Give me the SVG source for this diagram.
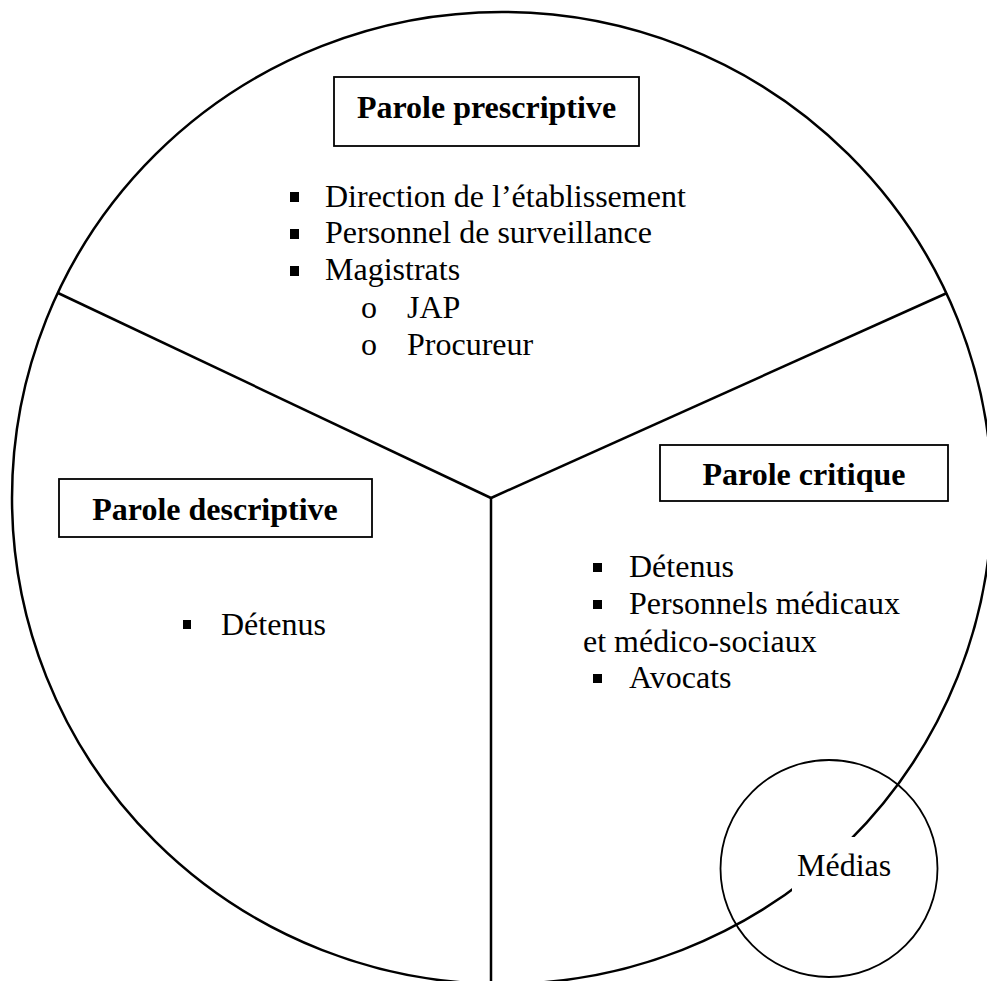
<svg xmlns="http://www.w3.org/2000/svg" width="987" height="981" viewBox="0 0 987 981">
  <style>
    .t { font-family: "Liberation Serif", "Times New Roman", serif; font-size: 32px; fill: #000; }
    .b { font-weight: bold; }
    .box { fill: #fff; stroke: #000; stroke-width: 1.8; }
    .ln { stroke: #000; stroke-width: 2.5; fill: none; }
    .sq { fill: #000; }
  </style>
  <rect x="0" y="0" width="987" height="981" fill="#fff"/>
  <g id="outer-circle">
    <ellipse cx="502" cy="498" rx="490" ry="486" class="ln" stroke-width="2.8"/>
  </g>
  <g id="connectors">
    <line x1="58" y1="293" x2="491" y2="498" class="ln"/>
    <line x1="947" y1="293" x2="491" y2="498" class="ln"/>
    <line x1="491" y1="498" x2="491" y2="985" class="ln"/>
  </g>
  <g id="prescriptive">
    <rect x="334" y="77" width="305" height="69" class="box"/>
    <text x="486.5" y="118" text-anchor="middle" class="t b">Parole prescriptive</text>
    <rect x="290" y="192" width="9" height="10" class="sq"/>
    <text x="325" y="207" class="t">Direction de l’établissement</text>
    <rect x="290" y="229" width="9" height="10" class="sq"/>
    <text x="325" y="243" class="t">Personnel de surveillance</text>
    <rect x="290" y="266" width="9" height="10" class="sq"/>
    <text x="325" y="280" class="t">Magistrats</text>
    <text x="361" y="318" class="t" font-family="Liberation Mono, monospace">o</text>
    <text x="407" y="318" class="t">JAP</text>
    <text x="361" y="355" class="t" font-family="Liberation Mono, monospace">o</text>
    <text x="407" y="355" class="t">Procureur</text>
  </g>
  <g id="descriptive">
    <rect x="59" y="479" width="313" height="58" class="box"/>
    <text x="215" y="520" text-anchor="middle" class="t b">Parole descriptive</text>
    <rect x="183" y="620" width="8" height="9" class="sq"/>
    <text x="221" y="635" class="t">Détenus</text>
  </g>
  <g id="critique">
    <rect x="660" y="445" width="288" height="56" class="box"/>
    <text x="804" y="485" text-anchor="middle" class="t b">Parole critique</text>
    <rect x="593" y="563" width="9" height="9" class="sq"/>
    <text x="629" y="577" class="t">Détenus</text>
    <rect x="593" y="600" width="9" height="9" class="sq"/>
    <text x="629" y="614" class="t">Personnels médicaux</text>
    <text x="583" y="652" class="t">et médico-sociaux</text>
    <rect x="593" y="674" width="9" height="9" class="sq"/>
    <text x="629" y="688" class="t">Avocats</text>
  </g>
  <g id="medias">
    <circle cx="829" cy="868.5" r="108.5" fill="none" stroke="#000" stroke-width="1.8"/>
    <rect x="792" y="837" width="104" height="55" fill="#fff"/>
    <text x="797" y="876" class="t">Médias</text>
  </g>
</svg>
